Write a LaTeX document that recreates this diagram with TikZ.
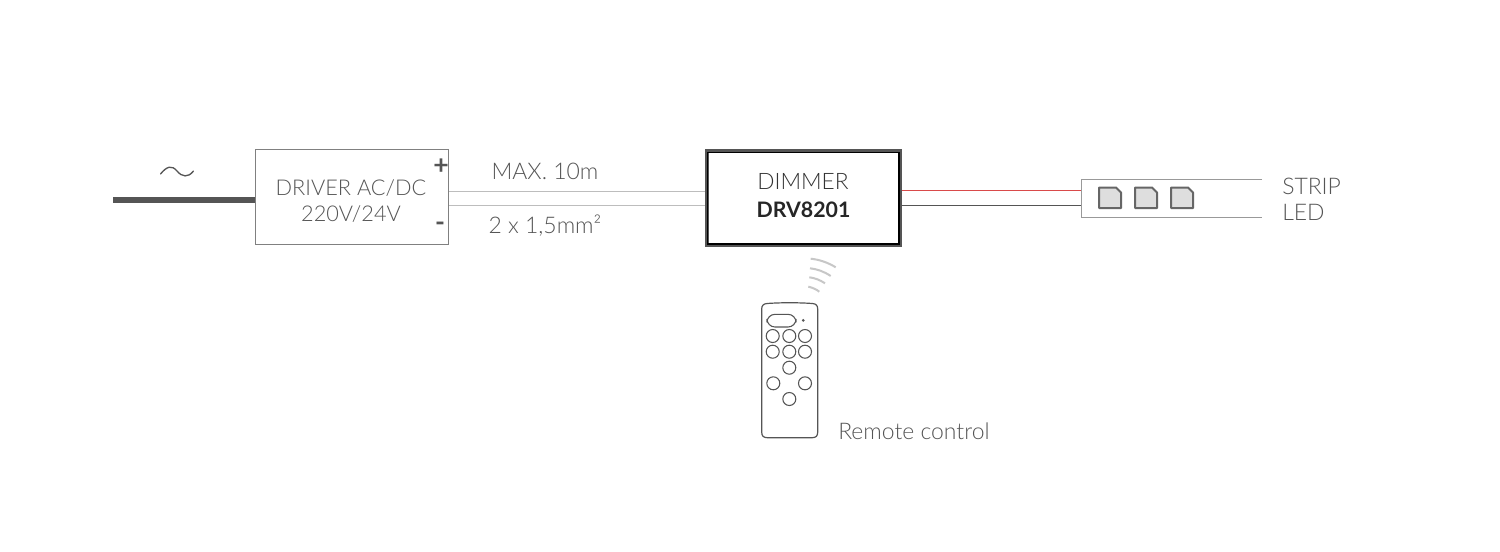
\documentclass[tikz,border=0pt]{standalone}
\usepackage{fontspec}
\setmainfont{Lato Light}[BoldFont={Lato Bold}]
\definecolor{txt}{HTML}{555555}
\definecolor{dk}{HTML}{555555}
\definecolor{wire}{HTML}{BDBDBD}
\definecolor{redw}{HTML}{D94A4A}
\begin{document}
\begin{tikzpicture}[x=0.75pt,y=-0.75pt,
  lbl/.style={inner sep=0pt,text=txt,font=\fontsize{17.2pt}{20pt}\selectfont},
  boxa/.style={draw=#1,fill=white,inner sep=0pt,line width=0.75pt},
  btn/.style={draw=dk,line width=0.8pt},
  wave/.style={draw=black!22,line width=1.5pt},
  chip/.style={draw=dk!90,fill=black!13,line width=1.5pt,line join=round}]
\useasboundingbox[fill=white] (0,0) rectangle (1500,551);
% mains
\node[boxa=black!50,minimum width=144.75pt,minimum height=71.25pt] (driver) at (352,197) {};
\coordinate (mains) at (113,200.3);
\draw[dk,line width=4.5pt] (mains) -- (driver.west |- mains);
\draw[dk,line width=1pt,line cap=round] (160.5,174) .. controls (167,166) and (172,165) .. (177,171) .. controls (182,177) and (188,178) .. (193.5,171);
\node[lbl,align=center,font=\fontsize{16.3pt}{20pt}\selectfont] (drvtxt) at (351,201) {DRIVER AC/DC\\220V/24V};
\node[inner sep=0pt,text=dk,font=\bfseries\fontsize{20pt}{20pt}\selectfont] (plus) at (441,167) {+};
\node[inner sep=0pt,text=dk,font=\bfseries\fontsize{20pt}{20pt}\selectfont] (minus) at (440,226.5) {-};
% dimmer
\node[draw=dk,fill=white,inner sep=0pt,line width=3pt,minimum width=144.75pt,minimum height=70.5pt] (dimmer) at (803.2,198) {};
\draw[black,line width=1.2pt] (707.6,152.6) rectangle (898.8,243.8);
\coordinate (wa) at (0,191.5);
\coordinate (wb) at (0,205.5);
\draw[wire,line width=0.75pt] (driver.east |- wa) -- (dimmer.west |- wa);
\draw[wire,line width=0.75pt] (driver.east |- wb) -- (dimmer.west |- wb);
\node[lbl] (max) at (545,171.5) {MAX. 10m};
\node[lbl] (sect) at (545,226) {2 x 1,5mm²};
\node[lbl,align=center,text=black!80,font=\fontsize{17pt}{21pt}\selectfont] (dimtxt) at (803,181.5) {DIMMER};
\node[lbl,text=black!85,font=\bfseries\fontsize{16pt}{20pt}\selectfont] (drv) at (803.5,209.5) {DRV8201};
% strip
\coordinate (stripw) at (1081.5,198.5);
\coordinate (ra) at (0,190.6);
\coordinate (rb) at (0,205.8);
\draw[redw,line width=0.8pt] (dimmer.east |- ra) -- (stripw |- ra);
\draw[dk,line width=0.9pt] (dimmer.east |- rb) -- (stripw |- rb);
\draw[black!40,line width=0.8pt] (1262,179.5) -- (1081.5,179.5) -- (1081.5,217.5) -- (1262,217.5);
\foreach \x in {1099,1135,1171}{
  \draw[chip] (\x,187.5) -- (\x+17,187.5) -- (\x+22,192.5) -- (\x+22,208) -- (\x,208) -- cycle;
}
\node[lbl,anchor=west] (strip) at (1282,186.5) {STRIP};
\node[lbl,anchor=west] (led) at (1282,212.5) {LED};
% waves
\draw[wave] (810.7,258.7) .. controls (819,259.5) and (828,262.5) .. (835.7,267.3);
\draw[wave] (810,268.3) .. controls (817,269) and (824,271.5) .. (830.7,276);
\draw[wave] (809.3,277.3) .. controls (815,278) and (820,280) .. (825,283.3);
\draw[wave] (808.3,286.7) .. controls (812,287.5) and (816,289) .. (819.3,291.7);
% remote
\draw[dk,line width=0.9pt,line join=round] (767,303.5) .. controls (780,302.5) and (799,302.5) .. (812.5,303.5) .. controls (816,303.8) and (817.7,305.5) .. (817.7,309) -- (817.7,432) .. controls (817.7,436) and (816,437.7) .. (812,437.7) -- (767.5,437.7) .. controls (763.5,437.7) and (761.7,436) .. (761.7,432) -- (761.7,309) .. controls (761.7,305.5) and (763.5,303.8) .. (767,303.5) -- cycle;
\draw[btn,rounded corners=6pt] (767,314.3) rectangle (796,327);
\fill[dk] (803.3,320.3) circle (1.5);
\foreach \x/\y in {772.7/336,789.3/336,805/336,772.7/351.7,789.3/351.7,805/351.7,789.3/367.7,773.3/383.3,805/383.3,789.3/399}{
  \draw[btn] (\x,\y) circle (6.5);
}
\node[lbl,anchor=west] (rc) at (838,431.5) {Remote control};
\end{tikzpicture}
\end{document}
